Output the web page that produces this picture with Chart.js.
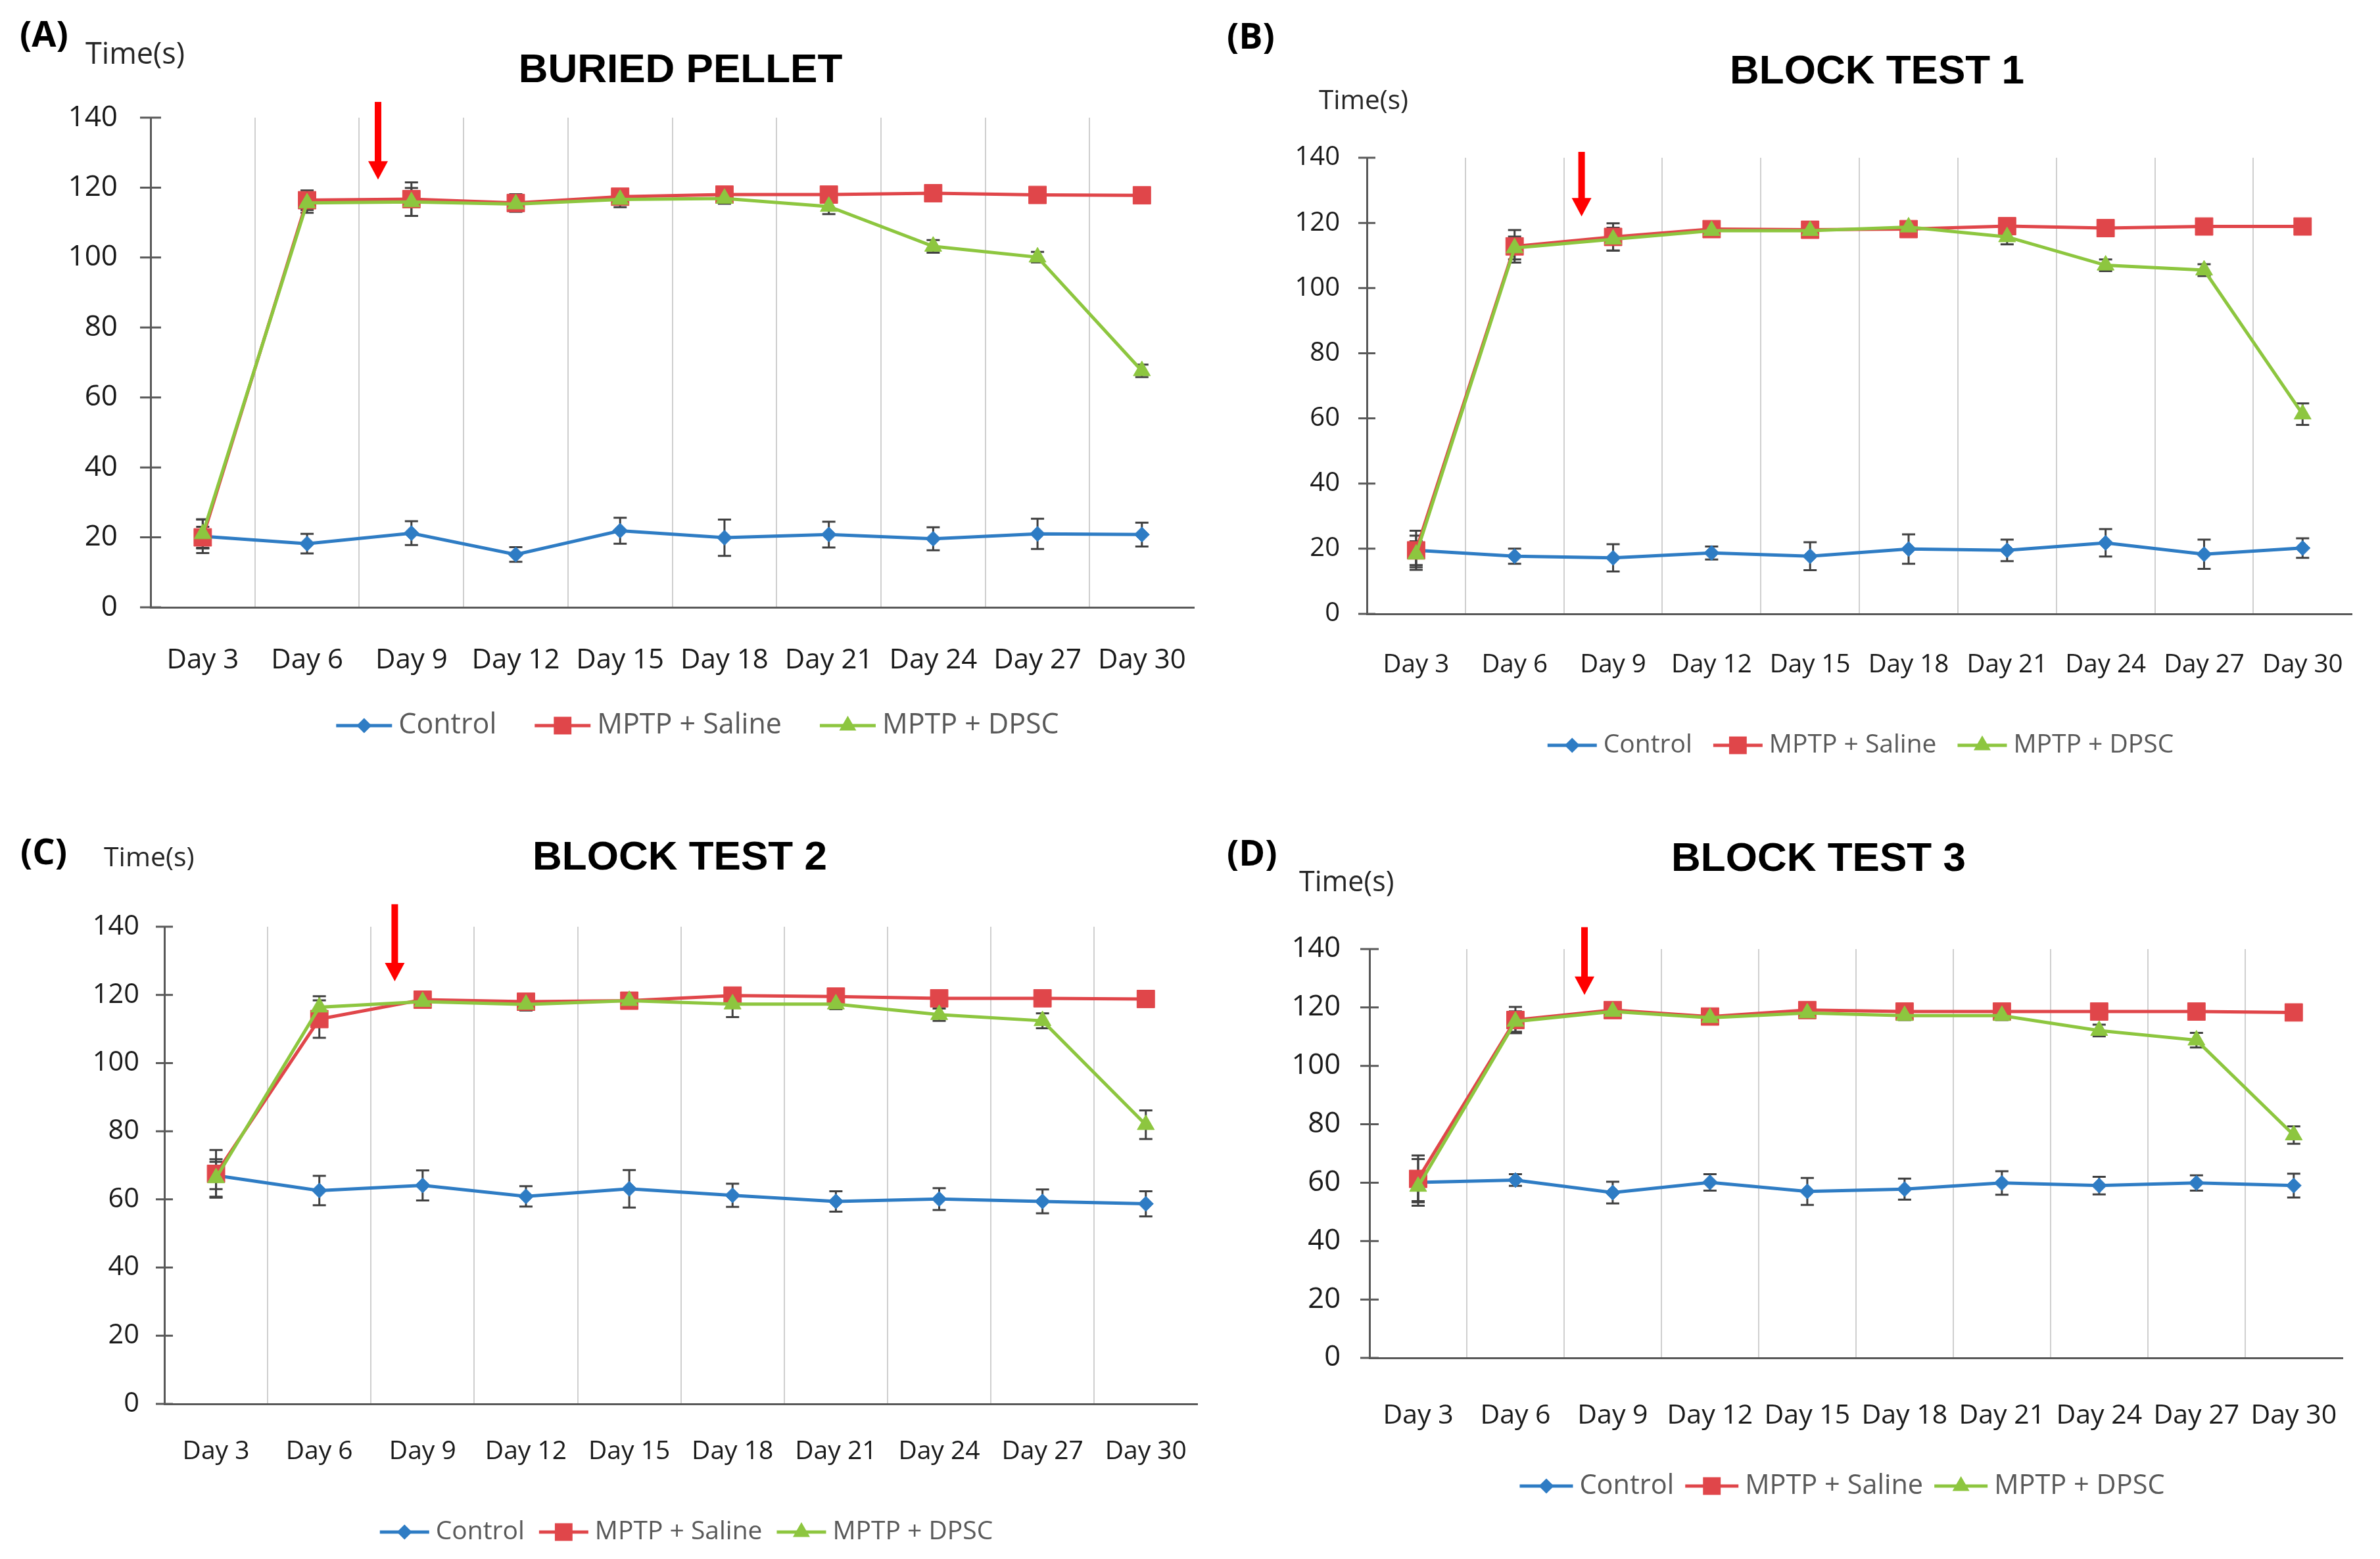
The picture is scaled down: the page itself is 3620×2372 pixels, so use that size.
<!DOCTYPE html>
<html>
<head>
<meta charset="utf-8">
<script src="https://cdn.jsdelivr.net/npm/chart.js@4.4.1/dist/chart.umd.min.js"></script>
<style>
html, body { margin: 0; padding: 0; background: #ffffff; }
body { width: 3620px; height: 2372px; position: relative; overflow: hidden; }
canvas { position: absolute; }
</style>
</head>
<body>
<script>
// ---------------- DATA ----------------
const days = ['Day 3', 'Day 6', 'Day 9', 'Day 12', 'Day 15', 'Day 18', 'Day 21', 'Day 24', 'Day 27', 'Day 30'];
const yTicks = [0, 20, 40, 60, 80, 100, 120, 140];
const seriesNames = ['Control', 'MPTP + Saline', 'MPTP + DPSC'];
const panelTitles = ['BURIED PELLET', 'BLOCK TEST 1', 'BLOCK TEST 2', 'BLOCK TEST 3'];
const panelLetters = ['(A)', '(B)', '(C)', '(D)'];
const axisLabel = 'Time(s)';

// (A) Buried pellet
const controlA    = [20.3, 18.2, 21.2, 15.1, 21.9, 19.9, 20.8, 19.6, 21.0, 20.8];
const controlErrA = [4.8, 2.8, 3.4, 2.1, 3.7, 5.2, 3.7, 3.3, 4.3, 3.4];
const salineA     = [20.0, 116.4, 116.7, 115.6, 117.4, 118.0, 118.0, 118.4, 117.9, 117.8];
const salineErrA  = [3.0, 2.8, 4.8, 2.5, 2.2, 1.5, 1.5, 1.2, 1.2, 1.2];
const dpscA       = [21.0, 115.6, 115.9, 115.3, 116.6, 116.9, 114.6, 103.2, 100.1, 67.6];
const dpscErrA    = [4.2, 2.8, 4.0, 2.0, 2.2, 1.5, 2.2, 1.8, 1.5, 1.8];

// (B) Block test 1
const controlB    = [19.5, 17.7, 17.2, 18.7, 17.7, 19.9, 19.5, 21.8, 18.3, 20.2];
const controlErrB = [4.5, 2.3, 4.2, 2.0, 4.3, 4.5, 3.3, 4.2, 4.5, 3.0];
const salineB     = [19.5, 112.8, 115.7, 118.1, 117.9, 118.1, 119.0, 118.4, 118.9, 118.9];
const salineErrB  = [6.0, 5.0, 4.2, 1.5, 1.5, 1.5, 1.2, 1.2, 1.2, 1.2];
const dpscB       = [18.3, 112.3, 115.0, 117.6, 117.6, 118.7, 115.7, 107.0, 105.5, 61.3];
const dpscErrB    = [4.0, 3.5, 3.5, 1.5, 1.5, 1.5, 2.3, 1.8, 1.8, 3.3];

// (C) Block test 2
const controlC    = [67.0, 62.6, 64.1, 60.9, 63.1, 61.2, 59.4, 60.1, 59.4, 58.7];
const controlErrC = [4.0, 4.3, 4.4, 3.0, 5.5, 3.4, 3.0, 3.2, 3.5, 3.7];
const salineC     = [67.5, 112.9, 118.6, 118.0, 118.3, 119.8, 119.5, 119.0, 119.0, 118.8];
const salineErrC  = [7.0, 5.5, 1.5, 1.5, 1.5, 1.5, 1.2, 1.2, 1.2, 1.2];
const dpscC       = [66.3, 116.4, 118.0, 117.2, 118.3, 117.3, 117.3, 114.2, 112.4, 81.9];
const dpscErrC    = [5.5, 3.2, 1.5, 1.8, 1.5, 3.8, 1.5, 1.8, 2.2, 4.2];

// (D) Block test 3
const controlD    = [60.1, 60.9, 56.6, 60.1, 57.0, 57.8, 59.9, 59.0, 59.9, 59.0];
const controlErrD = [8.0, 2.0, 3.7, 2.8, 4.6, 3.6, 4.0, 3.0, 2.6, 4.1];
const salineD     = [61.3, 115.7, 119.1, 116.9, 119.1, 118.6, 118.6, 118.6, 118.6, 118.3];
const salineErrD  = [8.0, 4.5, 1.5, 2.0, 1.5, 1.5, 1.2, 1.2, 1.2, 1.2];
const dpscD       = [58.7, 115.2, 118.6, 116.5, 118.1, 117.2, 117.2, 112.1, 108.8, 76.3];
const dpscErrD    = [5.0, 3.5, 1.5, 2.0, 1.5, 1.5, 1.5, 2.0, 2.5, 3.0];

// Red treatment arrows (category position, start value, tip value)
const arrowAt   = [1.68, 1.68, 1.73, 1.71];
const arrowFrom = [144.5, 141.8, 146.6, 147.5];
const arrowTo   = [122.3, 122.0, 124.0, 124.3];

// ---------------- STYLE / LAYOUT ----------------
const FONT = '"Open Sans", "Noto Sans", sans-serif';
const TITLE_FONT = '"Liberation Sans", Arial, sans-serif';
const seriesStyles = [
  { color: '#2E7CC4', pointStyle: 'rectRot', radius: 11.5, order: 2 },
  { color: '#E0464A', pointStyle: 'rect', radius: 19, order: 1 },
  { color: '#8DC63F', pointStyle: 'triangle', radius: 15, order: 0 }
];
const layouts = [
  { x0: 0, y0: 0, w: 1861, h: 1180, L: 229, R: 1831, T: 179, B: 924, titleX: 1035, titleY: 108,
    letterX: 30, letterY: 56, labelX: 130, labelY: 84, xLabelY: 1005, legendX: 1061, legendY: 1104,
    yFont: 44, xFont: 42, legendFont: 43, axisFont: 45, tickHalf: 16, yPad: 50, legendGap: 58, legendLine: 85 },
  { x0: 1850, y0: 0, w: 1770, h: 1180, L: 2079, R: 3590, T: 240, B: 934, titleX: 2855, titleY: 110,
    letterX: 1866, letterY: 59, labelX: 2006, labelY: 154, xLabelY: 1012, legendX: 2830, legendY: 1134,
    yFont: 40, xFont: 38.5, legendFont: 39, axisFont: 40.5, tickHalf: 13, yPad: 41, legendGap: 32, legendLine: 75 },
  { x0: 0, y0: 1180, w: 1856, h: 1192, L: 250, R: 1826, T: 1410, B: 2136, titleX: 1034, titleY: 1306,
    letterX: 31, letterY: 1300, labelX: 158, labelY: 1306, xLabelY: 2209, legendX: 1044, legendY: 2331,
    yFont: 41.5, xFont: 39, legendFont: 39, axisFont: 41, tickHalf: 13, yPad: 38, legendGap: 22, legendLine: 75 },
  { x0: 1850, y0: 1180, w: 1769, h: 1192, L: 2083, R: 3589, T: 1444, B: 2066, titleX: 2766, titleY: 1308,
    letterX: 1866, letterY: 1302, labelX: 1976, labelY: 1344, xLabelY: 2154, legendX: 2802, legendY: 2261,
    yFont: 43.5, xFont: 41, legendFont: 41.5, axisFont: 43, tickHalf: 14, yPad: 44, legendGap: 17, legendLine: 81 }
];
const panelData = [
  [[controlA, controlErrA], [salineA, salineErrA], [dpscA, dpscErrA]],
  [[controlB, controlErrB], [salineB, salineErrB], [dpscB, dpscErrB]],
  [[controlC, controlErrC], [salineC, salineErrC], [dpscC, dpscErrC]],
  [[controlD, controlErrD], [salineD, salineErrD], [dpscD, dpscErrD]]
];

function drawMarker(ctx, style, r, x, y) {
  ctx.beginPath();
  if (style === 'rectRot') {
    ctx.moveTo(x - r, y); ctx.lineTo(x, y - r); ctx.lineTo(x + r, y); ctx.lineTo(x, y + r);
  } else if (style === 'rect') {
    const s = r * Math.SQRT1_2;
    ctx.rect(x - s, y - s, 2 * s, 2 * s);
  } else {
    for (let k = 0; k < 3; k++) {
      const a = -Math.PI / 2 + k * 2 * Math.PI / 3;
      const px = x + Math.cos(a) * r, py = y + Math.sin(a) * r;
      if (k === 0) ctx.moveTo(px, py); else ctx.lineTo(px, py);
    }
  }
  ctx.closePath();
  ctx.fill();
}

// ---------------- PLUGINS ----------------
const layoutFix = {
  id: 'layoutFix',
  afterLayout(chart) {
    const o = chart.options.plugins.layoutFix;
    const t = chart.titleBlock;
    if (t) {
      const w = t.right - t.left;
      t.left = o.titleX - w / 2; t.right = t.left + w;
    }
    const lg = chart.legend;
    if (lg) {
      const w = lg.right - lg.left, h = lg.bottom - lg.top;
      lg.left = o.legendX - w / 2; lg.right = lg.left + w;
      lg.top = o.legendY - o.legendPad - o.legendFont / 2; lg.bottom = lg.top + h;
    }
  }
};

const crossTicks = {
  id: 'crossTicks',
  beforeDatasetsDraw(chart) {
    const o = chart.options.plugins.crossTicks;
    const y = chart.scales.y, L = chart.chartArea.left, ctx = chart.ctx;
    ctx.save();
    ctx.strokeStyle = '#595959'; ctx.lineWidth = 3;
    ctx.beginPath();
    y.ticks.forEach((t, i) => {
      const p = y.getPixelForTick(i);
      ctx.moveTo(L - o.half, p); ctx.lineTo(L + o.half, p);
    });
    ctx.stroke();
    ctx.restore();
  }
};

const errorBars = {
  id: 'errorBars',
  beforeDatasetsDraw(chart) {
    const ctx = chart.ctx, y = chart.scales.y, cap = 10;
    ctx.save();
    ctx.strokeStyle = '#404040'; ctx.lineWidth = 3;
    chart.data.datasets.forEach((ds, di) => {
      const meta = chart.getDatasetMeta(di);
      meta.data.forEach((pt, i) => {
        const v = ds.data[i], e = ds.errors[i];
        const yt = y.getPixelForValue(v + e), yb = y.getPixelForValue(v - e);
        ctx.beginPath();
        ctx.moveTo(pt.x, yt); ctx.lineTo(pt.x, yb);
        ctx.moveTo(pt.x - cap, yt); ctx.lineTo(pt.x + cap, yt);
        ctx.moveTo(pt.x - cap, yb); ctx.lineTo(pt.x + cap, yb);
        ctx.stroke();
      });
    });
    ctx.restore();
  }
};

const doseArrow = {
  id: 'doseArrow',
  afterDatasetsDraw(chart) {
    const o = chart.options.plugins.doseArrow, ctx = chart.ctx;
    const x = chart.scales.x.getPixelForValue(o.at);
    const y0 = chart.scales.y.getPixelForValue(o.from);
    const y1 = chart.scales.y.getPixelForValue(o.to);
    const shaft = 10, headW = 30, headH = 28;
    ctx.save();
    ctx.fillStyle = '#FF0000';
    ctx.fillRect(x - shaft / 2, y0, shaft, (y1 - headH) - y0 + 1);
    ctx.beginPath();
    ctx.moveTo(x - headW / 2, y1 - headH);
    ctx.lineTo(x + headW / 2, y1 - headH);
    ctx.lineTo(x, y1);
    ctx.closePath();
    ctx.fill();
    ctx.restore();
  }
};

const legendMarks = {
  id: 'legendMarks',
  afterDraw(chart) {
    const lg = chart.legend, ctx = chart.ctx, o = chart.options.plugins.legendMarks;
    if (!lg || !lg.legendHitBoxes) return;
    ctx.save();
    lg.legendHitBoxes.forEach((hb, i) => {
      const st = seriesStyles[lg.legendItems[i].datasetIndex];
      const cy = hb.top + hb.height / 2;
      ctx.strokeStyle = st.color; ctx.lineWidth = 5;
      ctx.beginPath(); ctx.moveTo(hb.left, cy); ctx.lineTo(hb.left + o.line, cy); ctx.stroke();
      ctx.fillStyle = st.color;
      drawMarker(ctx, st.pointStyle, st.radius, hb.left + o.line / 2, cy);
    });
    ctx.restore();
  }
};

const panelText = {
  id: 'panelText',
  afterDraw(chart) {
    const o = chart.options.plugins.panelText, ctx = chart.ctx;
    ctx.save();
    ctx.textBaseline = 'middle'; ctx.textAlign = 'left';
    ctx.fillStyle = '#000000';
    ctx.font = 'bold 54px ' + FONT;
    ctx.fillText(o.letter, o.letterX, o.letterY);
    ctx.fillStyle = '#262626';
    ctx.font = o.axisFont + 'px ' + FONT;
    ctx.fillText(o.label, o.labelX, o.labelY);
    ctx.restore();
  }
};

// ---------------- BUILD ----------------
Chart.defaults.font.family = FONT;

layouts.forEach((lay, k) => {
  const c = document.createElement('canvas');
  c.width = lay.w; c.height = lay.h;
  c.style.left = lay.x0 + 'px'; c.style.top = lay.y0 + 'px';
  c.style.width = lay.w + 'px'; c.style.height = lay.h + 'px';
  document.body.appendChild(c);

  const Lrel = lay.L - lay.x0, Trel = lay.T - lay.y0, Brel = lay.B - lay.y0;
  const titleSize = 62, titleLH = titleSize * 1.2;
  const titleTop = (lay.titleY - lay.y0) - titleLH / 2;
  const titleBottom = Trel - titleTop - titleLH;
  const legendH = lay.legendFont + lay.legendGap + 10;
  const xH = lay.h - Brel - legendH;

  const datasets = panelData[k].map((pair, s) => ({
    label: seriesNames[s],
    data: pair[0],
    errors: pair[1],
    borderColor: seriesStyles[s].color,
    backgroundColor: seriesStyles[s].color,
    pointBackgroundColor: seriesStyles[s].color,
    pointBorderColor: seriesStyles[s].color,
    pointBorderWidth: 1,
    pointStyle: seriesStyles[s].pointStyle,
    pointRadius: seriesStyles[s].radius,
    borderWidth: 5,
    tension: 0,
    fill: false,
    order: seriesStyles[s].order
  }));

  new Chart(c, {
    type: 'line',
    data: { labels: days, datasets },
    plugins: [layoutFix, crossTicks, errorBars, doseArrow, legendMarks, panelText],
    options: {
      responsive: false,
      animation: false,
      devicePixelRatio: 1,
      events: [],
      layout: { padding: { left: 0, top: 0, bottom: 0, right: 30 } },
      scales: {
        x: {
          type: 'category',
          offset: true,
          afterFit: (s) => { s.height = xH; },
          grid: {
            display: true, offset: true, drawTicks: false, drawOnChartArea: true, lineWidth: 2,
            color: (ctx) => (ctx.index === undefined || ctx.index === 0) ? 'rgba(0,0,0,0)' : '#cfcfcf'
          },
          border: { display: true, color: '#595959', width: 3 },
          ticks: {
            padding: (lay.xLabelY - lay.B) - lay.xFont * 0.6,
            font: { size: lay.xFont, family: FONT },
            color: '#1a1a1a', maxRotation: 0, autoSkip: false
          }
        },
        y: {
          min: 0, max: 140,
          afterBuildTicks: (s) => { s.ticks = yTicks.map(v => ({ value: v })); },
          afterFit: (s) => { s.width = Lrel; },
          grid: { display: false, drawTicks: false },
          border: { display: true, color: '#595959', width: 3 },
          ticks: { padding: lay.yPad, font: { size: lay.yFont, family: FONT }, color: '#1a1a1a' }
        }
      },
      plugins: {
        title: {
          display: true, text: panelTitles[k], align: 'center', color: '#000000',
          font: { family: TITLE_FONT, size: titleSize, weight: 'bold', lineHeight: 1.2 },
          padding: { top: titleTop, bottom: titleBottom }
        },
        legend: {
          display: true, position: 'bottom', align: 'center',
          labels: {
            boxWidth: lay.legendLine + 10 - lay.legendFont / 2,
            padding: lay.legendGap,
            color: '#595959',
            font: { size: lay.legendFont, family: FONT },
            generateLabels: (chart) => chart.data.datasets.map((ds, i) => ({
              text: ds.label, datasetIndex: i, hidden: false,
              fillStyle: 'rgba(0,0,0,0)', strokeStyle: 'rgba(0,0,0,0)', lineWidth: 0,
              fontColor: '#595959'
            }))
          }
        },
        tooltip: { enabled: false },
        layoutFix: { titleX: lay.titleX - lay.x0, legendX: lay.legendX - lay.x0, legendY: lay.legendY - lay.y0,
                     legendPad: lay.legendGap, legendFont: lay.legendFont },
        crossTicks: { half: lay.tickHalf },
        doseArrow: { at: arrowAt[k], from: arrowFrom[k], to: arrowTo[k] },
        legendMarks: { line: lay.legendLine },
        panelText: { letter: panelLetters[k], letterX: lay.letterX - lay.x0, letterY: lay.letterY - lay.y0,
                     label: axisLabel, labelX: lay.labelX - lay.x0, labelY: lay.labelY - lay.y0, axisFont: lay.axisFont }
      }
    }
  });
});
</script>
</body>
</html>
